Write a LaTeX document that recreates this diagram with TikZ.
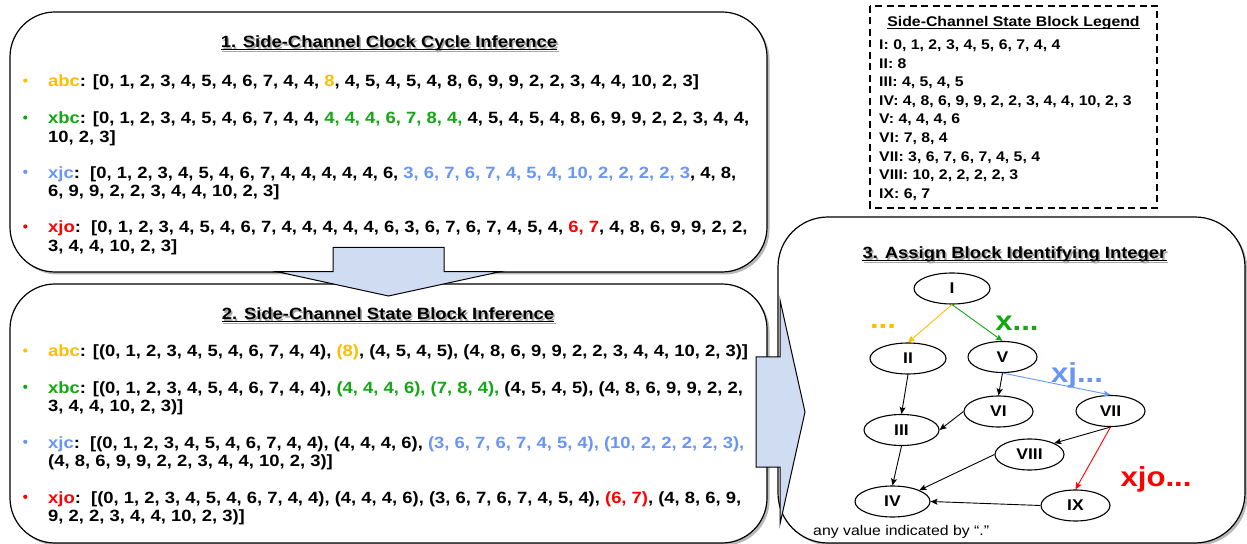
\documentclass[tikz,border=0pt]{standalone}
\usepackage{fontspec}
\setmainfont[FakeStretch=1.13]{Liberation Sans}
\usetikzlibrary{arrows.meta,shapes.geometric}

\definecolor{cOrange}{RGB}{255,190,0}
\definecolor{cGreen}{RGB}{18,168,18}
\definecolor{cBlue}{RGB}{105,150,245}
\definecolor{cRed}{RGB}{255,0,0}
\definecolor{arrowfill}{RGB}{208,220,242}

\newcommand\pbody{\fontsize{16.3bp}{18.3bp}\selectfont\bfseries}
\newcommand\plegend{\fontsize{14bp}{16bp}\selectfont\bfseries}
\newcommand\pnum{\fontsize{15.5bp}{17bp}\selectfont\bfseries}
\newcommand\pbig{\fontsize{27.5bp}{30bp}\selectfont\bfseries}
\newcommand\pnote{\fontsize{14bp}{16bp}\selectfont}

% underlined panel heading with a soft grey shadow: name, x, y, text
\newcommand\paneltitle[4]{%
  \node[headline,text=black!35] (#1s) at (#2+1.6,#3+1.6) {#4};
  \draw[black!35,line width=1.1bp] ([yshift=-2.2bp]#1s.base west) -- ([yshift=-2.2bp]#1s.base east);
  \node[headline] (#1) at (#2,#3) {#4};
  \draw[line width=1.1bp] ([yshift=-2.2bp]#1.base west) -- ([yshift=-2.2bp]#1.base east);
}

\begin{document}
\begin{tikzpicture}[x=1bp,y=-1bp,
  panel/.style={draw=black,line width=1.2bp,fill=white},
  panelshadow/.style={fill=black!28},
  blockarrow/.style={draw=black,line width=1bp,fill=arrowfill,line join=miter},
  body/.style={anchor=base west,inner sep=0pt,font=\pbody},
  headline/.style={anchor=base,inner sep=0pt,font=\pbody},
  bullet/.style={circle,inner sep=0pt,minimum size=4.2bp},
  legline/.style={anchor=base west,inner sep=0pt,font=\plegend},
  state/.style={ellipse,draw=black,line width=1.1bp,inner sep=0pt,minimum height=31bp,font=\pnum},
  edge/.style={-{Stealth[length=7bp,width=6bp,inset=1.5bp]},line width=0.9bp},
  tag/.style={anchor=base,inner sep=0pt,font=\pbig},
]
\fill[white] (0,0) rectangle (1247,544);
\useasboundingbox (0,0) rectangle (1247,544);

% ---------- panels ----------
\fill[panelshadow,rounded corners=45bp] (12.5,14.5) rectangle (769.5,274.5);
\draw[panel,rounded corners=45bp] (10,12) rectangle (767,272);
\fill[panelshadow,rounded corners=45bp] (12.5,286.5) rectangle (769.5,545.5);
\draw[panel,rounded corners=45bp] (10,284) rectangle (767,543);
\fill[panelshadow,rounded corners=50bp] (780.5,219.5) rectangle (1247.5,545.5);
\draw[panel,rounded corners=50bp] (778,217) rectangle (1245,543);

% ---------- block arrows between the stages ----------
\draw[blockarrow] (333,247.5) -- (444,247.5) -- (444,271.7) -- (500,271.7)
  -- (388.5,296) -- (277,271.7) -- (333,271.7) -- cycle;
\draw[blockarrow] (756,357) -- (780,357) -- (780,300) -- (805,412)
  -- (780,524) -- (780,467) -- (756,467) -- cycle;

% ---------- stage 1 ----------
\paneltitle{t1}{389}{47.5}{1. Side-Channel Clock Cycle Inference}

\node[bullet,fill=cOrange] (a1b) at (25.3,80.5) {};
\node[body] (a1) at (48,87) {\textcolor{cOrange}{abc}: [0, 1, 2, 3, 4, 5, 4, 6, 7, 4, 4, \textcolor{cOrange}{8}, 4, 5, 4, 5, 4, 8, 6, 9, 9, 2, 2, 3, 4, 4, 10, 2, 3]};

\node[bullet,fill=cGreen] (b1b) at (25.3,117.5) {};
\node[body] (b1) at (48,124) {\textcolor{cGreen}{xbc}: [0, 1, 2, 3, 4, 5, 4, 6, 7, 4, 4, \textcolor{cGreen}{4, 4, 4, 6, 7, 8, 4,} 4, 5, 4, 5, 4, 8, 6, 9, 9, 2, 2, 3, 4, 4,};
\node[body] (b1c) at (48,142.3) {10, 2, 3]};

\node[bullet,fill=cBlue] (c1b) at (25.3,171.8) {};
\node[body] (c1) at (48,178.3) {\textcolor{cBlue}{xjc}:\ \ [0, 1, 2, 3, 4, 5, 4, 6, 7, 4, 4, 4, 4, 4, 6, \textcolor{cBlue}{3, 6, 7, 6, 7, 4, 5, 4, 10, 2, 2, 2, 2, 3}, 4, 8,};
\node[body] (c1c) at (48,196.6) {6, 9, 9, 2, 2, 3, 4, 4, 10, 2, 3]};

\node[bullet,fill=cRed] (d1b) at (25.3,226.5) {};
\node[body] (d1) at (48,233) {\textcolor{cRed}{xjo}:\ \ [0, 1, 2, 3, 4, 5, 4, 6, 7, 4, 4, 4, 4, 4, 6, 3, 6, 7, 6, 7, 4, 5, 4, \textcolor{cRed}{6, 7}, 4, 8, 6, 9, 9, 2, 2,};
\node[body] (d1c) at (48,251.3) {3, 4, 4, 10, 2, 3]};

% ---------- stage 2 ----------
\paneltitle{t2}{388}{319.5}{2. Side-Channel State Block Inference}

\node[bullet,fill=cOrange] (a2b) at (25.3,350.5) {};
\node[body] (a2) at (48,357) {\textcolor{cOrange}{abc}: [(0, 1, 2, 3, 4, 5, 4, 6, 7, 4, 4), \textcolor{cOrange}{(8)}, (4, 5, 4, 5), (4, 8, 6, 9, 9, 2, 2, 3, 4, 4, 10, 2, 3)]};

\node[bullet,fill=cGreen] (b2b) at (25.3,386.8) {};
\node[body] (b2) at (48,393.3) {\textcolor{cGreen}{xbc}: [(0, 1, 2, 3, 4, 5, 4, 6, 7, 4, 4), \textcolor{cGreen}{(4, 4, 4, 6), (7, 8, 4),} (4, 5, 4, 5), (4, 8, 6, 9, 9, 2, 2,};
\node[body] (b2c) at (48,411.6) {3, 4, 4, 10, 2, 3)]};

\node[bullet,fill=cBlue] (c2b) at (25.3,441.8) {};
\node[body] (c2) at (48,448.3) {\textcolor{cBlue}{xjc}:\ \ [(0, 1, 2, 3, 4, 5, 4, 6, 7, 4, 4), (4, 4, 4, 6), \textcolor{cBlue}{(3, 6, 7, 6, 7, 4, 5, 4), (10, 2, 2, 2, 2, 3),}};
\node[body] (c2c) at (48,466.6) {(4, 8, 6, 9, 9, 2, 2, 3, 4, 4, 10, 2, 3)]};

\node[bullet,fill=cRed] (d2b) at (25.3,496.8) {};
\node[body] (d2) at (48,503.3) {\textcolor{cRed}{xjo}:\ \ [(0, 1, 2, 3, 4, 5, 4, 6, 7, 4, 4), (4, 4, 4, 6), (3, 6, 7, 6, 7, 4, 5, 4), \textcolor{cRed}{(6, 7)}, (4, 8, 6, 9,};
\node[body] (d2c) at (48,521.6) {9, 2, 2, 3, 4, 4, 10, 2, 3)]};

% ---------- legend ----------
\draw[dash pattern=on 7bp off 4.5bp,line width=1.5bp] (870,6) rectangle (1157,208);
\node[anchor=base,inner sep=0pt,font=\plegend] (lgt) at (1013.5,26.5) {Side-Channel State Block Legend};
\draw[line width=1bp] ([yshift=-2bp]lgt.base west) -- ([yshift=-2bp]lgt.base east);
\node[legline] (L1) at (879,49.5)  {I: 0, 1, 2, 3, 4, 5, 6, 7, 4, 4};
\node[legline] (L2) at (879,68.1)  {II: 8};
\node[legline] (L3) at (879,86.7)  {III: 4, 5, 4, 5};
\node[legline] (L4) at (879,105.3) {IV: 4, 8, 6, 9, 9, 2, 2, 3, 4, 4, 10, 2, 3};
\node[legline] (L5) at (879,123.9) {V: 4, 4, 4, 6};
\node[legline] (L6) at (879,142.5) {VI: 7, 8, 4};
\node[legline] (L7) at (879,161.1) {VII: 3, 6, 7, 6, 7, 4, 5, 4};
\node[legline] (L8) at (879,179.7) {VIII: 10, 2, 2, 2, 2, 3};
\node[legline] (L9) at (879,198.3) {IX: 6, 7};

% ---------- stage 3: block graph ----------
\paneltitle{t3}{1014.5}{258.5}{3. Assign Block Identifying Integer}

\node[state,minimum width=76bp] (I)    at (952,288.5)    {I};
\node[state,minimum width=76bp] (II)   at (908,358.5)    {II};
\node[state,minimum width=69bp] (V)    at (1002.5,357)   {V};
\node[state,minimum width=69bp] (VI)   at (998.5,411.5)  {VI};
\node[state,minimum width=69bp] (VII)  at (1110.5,411)   {VII};
\node[state,minimum width=75bp] (III)  at (901.5,430)    {III};
\node[state,minimum width=69bp] (VIII) at (1029.5,454.5) {VIII};
\node[state,minimum width=75bp] (IV)   at (892.5,501.5)  {IV};
\node[state,minimum width=69bp] (IX)   at (1075.5,505.5) {IX};

\draw[edge,cOrange] (I.south) -- (II.north);
\draw[edge,cGreen] (I.south) -- (V.north);
\draw[edge] (V.south) -- (VI.north);
\draw[edge,cBlue] (V.south) -- (VII.north);
\draw[edge] (II.south) -- (III.north);
\draw[edge] (VI.west) -- (III.east);
\draw[edge] (III.south) -- (IV.north);
\draw[edge] (VII.south) -- (VIII.north east);
\draw[edge,cRed] (VII.south) -- (IX.north);
\draw[edge] (VIII.west) -- (IV.north east);
\draw[edge] (IX.west) -- (IV.east);

\node[tag,text=cOrange] (tabc) at (883,329)    {...};
\node[tag,text=cGreen]  (tx)   at (1017,330.5) {x...};
\node[tag,text=cBlue]   (txj)  at (1077,383)   {xj...};
\node[tag,text=cRed]    (txjo) at (1156,486.5) {xjo...};

\node[anchor=base west,inner sep=0pt,font=\pnote] (note) at (813,535) {any value indicated by “.”};
\end{tikzpicture}
\end{document}
